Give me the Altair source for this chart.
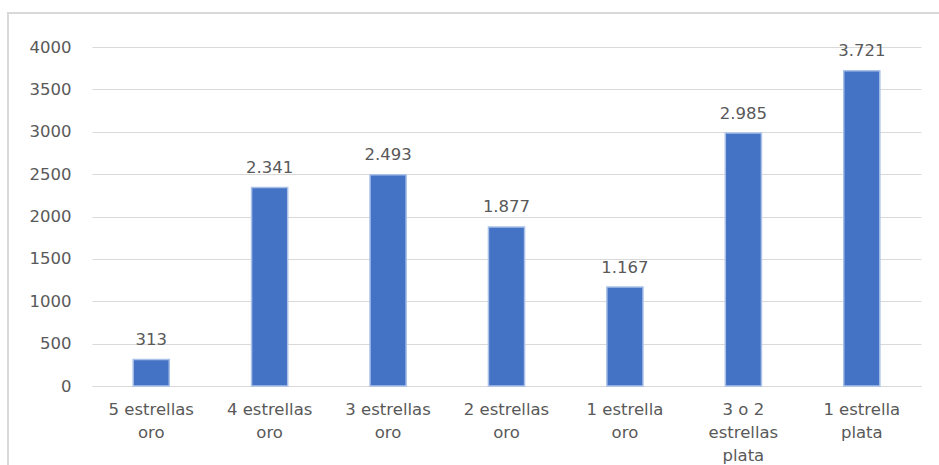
import altair as alt
import pandas as pd

categories = [
    "5 estrellas\noro",
    "4 estrellas\noro",
    "3 estrellas\noro",
    "2 estrellas\noro",
    "1 estrella\noro",
    "3 o 2\nestrellas\nplata",
    "1 estrella\nplata",
]
values = [313, 2341, 2493, 1877, 1167, 2985, 3721]
y_ticks = [0, 500, 1000, 1500, 2000, 2500, 3000, 3500, 4000]

labels = [f"{v:,}".replace(",", ".") for v in values]
df = pd.DataFrame({"cat": categories, "val": values, "lab": labels})

FONT = "DejaVu Sans"
TXT = "#595959"
GRID = "#d9d9d9"

x_enc = alt.X(
    "cat:N",
    sort=categories,
    scale=alt.Scale(paddingInner=0.695, paddingOuter=0.3475),
    axis=alt.Axis(
        title=None,
        labelAngle=0,
        labelExpr="split(datum.label, '\\n')",
        labelFont=FONT,
        labelFontSize=16.5,
        labelColor=TXT,
        labelLineHeight=23,
        labelPadding=15,
        ticks=False,
        domain=True,
        domainColor=GRID,
        domainWidth=1,
        grid=False,
    ),
)

y_enc = alt.Y(
    "val:Q",
    scale=alt.Scale(domain=[0, 4000], nice=False),
    axis=alt.Axis(
        title=None,
        values=y_ticks,
        format="d",
        labelFont=FONT,
        labelFontSize=16.5,
        labelColor=TXT,
        labelPadding=21,
        ticks=False,
        domain=False,
        grid=True,
        gridColor=GRID,
        gridWidth=1,
    ),
)

base = alt.Chart(df)

border = base.mark_rect(fill=None, stroke="#d9d9d9", strokeWidth=1.5).encode(
    x=alt.value(-84),
    x2=alt.value(870),
    y=alt.value(-34),
    y2=alt.value(480),
)

bars = base.mark_bar(color="#4472C4", stroke="#a9c1e8", strokeWidth=1.5).encode(
    x=x_enc, y=y_enc
)

text = base.mark_text(
    font=FONT, fontSize=16.5, color=TXT, baseline="alphabetic", dy=-14.5
).encode(x=alt.X("cat:N", sort=categories), y="val:Q", text="lab:N")

chart = (
    alt.layer(border, bars, text)
    .properties(
        width=829,
        height=339,
        autosize=alt.AutoSizeParams(type="none"),
        padding={"left": 92, "top": 47, "right": 18, "bottom": 79},
        background="white",
    )
    .configure_view(stroke=None)
)

chart.save("out.html", embed_options={"renderer": "svg", "actions": False})
